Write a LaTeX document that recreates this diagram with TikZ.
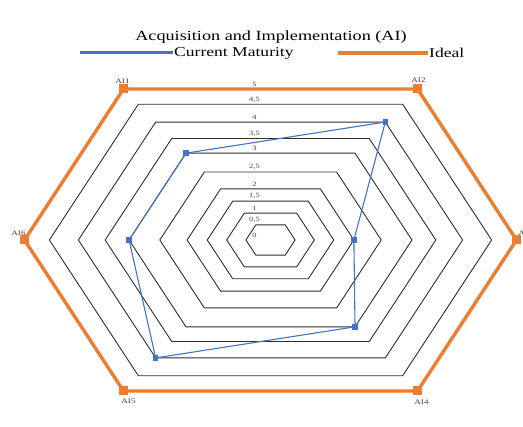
\documentclass[tikz,border=0pt]{standalone}
\usepackage{fontspec}
\usepackage{graphicx}
\setmainfont{Liberation Serif}
\usetikzlibrary{calc}
\definecolor{cmblue}{HTML}{4472C4}
\definecolor{idorange}{HTML}{ED7D31}
\definecolor{gridink}{HTML}{2E2E2E}
\definecolor{labink}{HTML}{404040}
% half width, half height and half top edge of the outer hexagon
\newcommand{\Wd}{246}
\newcommand{\Ht}{151}
\newcommand{\Tp}{147}
\newcommand{\Wide}[1]{\scalebox{1.3}[1]{#1}}

\begin{document}
\begin{tikzpicture}[x=1pt, y=1pt,
    gridhex/.style={gridink, line width=0.9pt},
    gridlab/.style={labink, anchor=south, inner sep=0.5pt, font=\fontsize{6.5}{7}\selectfont},
    axlab/.style={labink, inner sep=0pt, font=\fontsize{7}{8}\selectfont},
    idealline/.style={idorange, line width=3.4pt, line join=miter},
    idealmark/.style={fill=idorange, draw=none, minimum size=9pt, inner sep=0pt},
    cmline/.style={cmblue, line width=1.1pt},
    cmmark/.style={fill=cmblue, draw=none, minimum size=5.5pt, inner sep=0pt},
  ]
% --- Background ------------------------------------------------------------------
\useasboundingbox[fill=white] (0,0) rectangle (523,427);

% --- Title and legend ------------------------------------------------------------
\node[font=\fontsize{14}{16}\selectfont] (ttl) at (271,390) {\Wide{Acquisition and Implementation (AI)}};
\coordinate (cmstart) at (80,374);
\node[anchor=west, inner sep=1pt, font=\fontsize{13.5}{15}\selectfont] (cmtext) at (173,374) {\Wide{Current Maturity}};
\draw[cmblue, line width=3pt] (cmstart) -- (cmtext.west);
\coordinate (idstart) at (338,374);
\node[anchor=west, inner sep=1pt, font=\fontsize{13.5}{15}\selectfont] (idtext) at (428,374) {\Wide{Ideal}};
\draw[idorange, line width=3.6pt] (idstart) -- (idtext.west);

\begin{scope}[shift={(270.5,187)}]
% --- Grid hexagons, 0,5 to 5 (their spacing is not even) ---------------------------
\foreach \s [count=\k] in {0.100, 0.178, 0.257, 0.339, 0.450, 0.575, 0.672, 0.781, 0.899, 1.000} {
  \draw[gridhex] (-\Tp*\s,\Ht*\s) -- (\Tp*\s,\Ht*\s) -- (\Wd*\s,0) -- (\Tp*\s,-\Ht*\s) -- (-\Tp*\s,-\Ht*\s) -- (-\Wd*\s,0) -- cycle;
}

% --- The six axes' ends ------------------------------------------------------------
\coordinate (o) at (0,0);
\coordinate (i1) at (-\Tp,\Ht);
\coordinate (i2) at (\Tp,\Ht);
\coordinate (i3) at (\Wd,0);
\coordinate (i4) at (\Tp,-\Ht);
\coordinate (i5) at (-\Tp,-\Ht);
\coordinate (i6) at (-\Wd,0);

% --- Ideal: 5 everywhere -------------------------------------------------------------
\draw[idealline] (i1) -- (i2) -- (i3) -- (i4) -- (i5) -- (i6) -- cycle;
\foreach \k in {1,...,6} \node[idealmark] (im\k) at (i\k) {};

% --- Current maturity: 3, 4, 2, 3, 4, 3 --------------------------------------------
\foreach \k/\f in {1/0.575, 2/0.781, 3/0.339, 4/0.575, 5/0.781, 6/0.575}
  \coordinate (c\k) at ($(o)!\f!(i\k)$);
\draw[cmline] (c1) -- (c2) -- (c3) -- (c4) -- (c5) -- (c6) -- cycle;
\foreach \k in {1,...,6} \node[cmmark] (cm\k) at (c\k) {};

% --- Value labels -----------------------------------------------------------------------
\foreach \s/\lab [count=\k] in {0.100/{0,5}, 0.178/1, 0.257/{1,5}, 0.339/2, 0.450/{2,5}, 0.575/3, 0.672/{3,5}, 0.781/4, 0.899/{4,5}, 1.000/5}
  \node[gridlab] (v\k) at (-16,\Ht*\s+1.5) {\Wide{\lab}};
\node[gridlab, anchor=center] (v0) at (-16,5) {\Wide{0}};

% --- Axis labels (AI3 runs off the right edge, as in the chart) -------------------------
\foreach \k/\x/\y in {1/-148/159, 2/148/160, 3/255/7, 4/151/-162, 5/-142/-161, 6/-252/7}
  \node[axlab] (ax\k) at (\x,\y) {\Wide{AI\k}};
\end{scope}
\end{tikzpicture}
\end{document}
